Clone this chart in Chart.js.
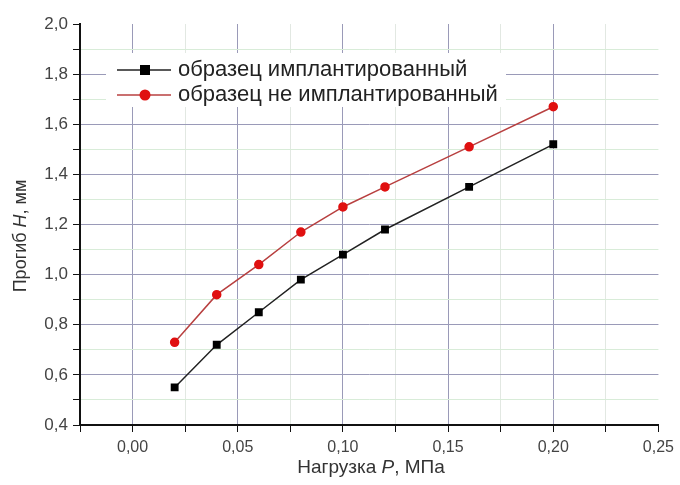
<!DOCTYPE html>
<html>
<head>
<meta charset="utf-8">
<script src="https://cdn.jsdelivr.net/npm/chart.js@4.4.0/dist/chart.umd.min.js"></script>
<style>
  html, body { margin: 0; padding: 0; background: #fff; }
  #wrap { width: 680px; height: 485px; }
</style>
</head>
<body>
<div id="wrap"><canvas id="myChart" width="680" height="485"></canvas></div>
<script>
// данные
const pressure = [0.02, 0.04, 0.06, 0.08, 0.10, 0.12, 0.16, 0.20];
const implanted = [0.55, 0.72, 0.85, 0.98, 1.08, 1.18, 1.35, 1.52];
const notImplanted = [0.73, 0.92, 1.04, 1.17, 1.27, 1.35, 1.51, 1.67];
const seriesNames = ['образец имплантированный', 'образец не имплантированный'];

const FONT = '"Liberation Sans", Arial, sans-serif';

function isMajor(v, step) {
    return Math.abs(Math.round(v / step) * step - v) < 1e-6;
}

// легенда внутри графика (белая подложка закрывает сетку)
const innerLegend = {
    id: 'innerLegend',
    afterDraw(chart) {
        const ctx = chart.ctx;
        const rows = [[117, 70], [117, 95]];
        ctx.save();
        ctx.fillStyle = '#fff';
        ctx.fillRect(106, 53, 400, 54);
        ctx.restore();
        chart.data.datasets.forEach((ds, i) => {
            const [x, y] = rows[i];
            ctx.save();
            ctx.strokeStyle = ds.borderColor;
            ctx.lineWidth = 1.5;
            ctx.beginPath();
            ctx.moveTo(x, y);
            ctx.lineTo(x + 54, y);
            ctx.stroke();
            ctx.fillStyle = ds.pointBackgroundColor;
            if (ds.pointStyle === 'rect') {
                ctx.fillRect(x + 23, y - 5, 10, 10);
            } else {
                ctx.beginPath();
                ctx.arc(x + 28, y, 5.5, 0, Math.PI * 2);
                ctx.fill();
            }
            ctx.fillStyle = '#222';
            ctx.font = '22px ' + FONT;
            ctx.textBaseline = 'middle';
            ctx.fillText(ds.label, x + 61, y);
            ctx.restore();
        });
    }
};

// подписи осей (курсивные буквы)
function drawMixed(ctx, parts, x, y, size) {
    let total = 0;
    parts.forEach(p => {
        ctx.font = (p[1] ? 'italic ' : '') + size + 'px ' + FONT;
        total += ctx.measureText(p[0]).width;
    });
    let cx = x - total / 2;
    parts.forEach(p => {
        ctx.font = (p[1] ? 'italic ' : '') + size + 'px ' + FONT;
        ctx.fillText(p[0], cx, y);
        cx += ctx.measureText(p[0]).width;
    });
}
const axisTitles = {
    id: 'axisTitles',
    afterDraw(chart) {
        const ctx = chart.ctx;
        ctx.save();
        ctx.fillStyle = '#333';
        ctx.textBaseline = 'middle';
        drawMixed(ctx, [['Нагрузка ', false], ['P', true], [', МПа', false]], 371, 468, 19);
        ctx.translate(21, 236);
        ctx.rotate(-Math.PI / 2);
        drawMixed(ctx, [['Прогиб ', false], ['H', true], [', мм', false]], 0, 0, 18);
        ctx.restore();
    }
};

const data = {
    datasets: [{
        label: seriesNames[0],
        data: pressure.map((p, i) => ({ x: p, y: implanted[i] })),
        borderColor: '#222222',
        backgroundColor: '#000000',
        pointBackgroundColor: '#000000',
        pointBorderColor: '#000000',
        pointStyle: 'rect',
        pointRadius: 4.5,
        borderWidth: 1.5
    }, {
        label: seriesNames[1],
        data: pressure.map((p, i) => ({ x: p, y: notImplanted[i] })),
        borderColor: '#b84040',
        backgroundColor: '#e01010',
        pointBackgroundColor: '#e01010',
        pointBorderColor: '#e01010',
        pointStyle: 'circle',
        pointRadius: 4,
        borderWidth: 1.5
    }]
};

const config = {
    type: 'line',
    data: data,
    options: {
        responsive: false,
        animation: false,
        layout: { padding: { top: 24, right: 20, left: 0, bottom: 0 } },
        plugins: {
            legend: { display: false },
            tooltip: { enabled: false }
        },
        scales: {
            x: {
                type: 'linear',
                min: -0.025,
                max: 0.25,
                afterBuildTicks(scale) {
                    const t = [];
                    for (let i = -1; i <= 10; i++) t.push({ value: i * 0.025 });
                    scale.ticks = t;
                },
                afterFit(scale) { scale.height = 60; },
                border: { color: '#111', width: 2 },
                grid: {
                    color: ctx => {
                        const v = ctx.tick.value;
                        if (v > 0.24) return 'rgba(0,0,0,0)';
                        return isMajor(v, 0.05) ? '#9a9ab8' : '#e2e8e2';
                    },
                    tickColor: '#111',
                    tickLength: 7,
                    lineWidth: 1
                },
                ticks: {
                    autoSkip: false,
                    maxRotation: 0,
                    color: '#444',
                    padding: 6,
                    font: { family: FONT, size: 16 },
                    callback: v => isMajor(v, 0.05) ? v.toFixed(2).replace('.', ',') : ''
                }
            },
            y: {
                min: 0.4,
                max: 2.0,
                afterBuildTicks(scale) {
                    const t = [];
                    for (let i = 4; i <= 20; i++) t.push({ value: i / 10 });
                    scale.ticks = t;
                },
                afterFit(scale) { scale.width = 80; },
                border: { color: '#111', width: 2 },
                grid: {
                    color: ctx => {
                        const v = ctx.tick.value;
                        if (v > 1.95) return 'rgba(0,0,0,0)';
                        return isMajor(v, 0.2) ? '#9a9ab8' : '#d8ecd8';
                    },
                    tickColor: '#111',
                    tickLength: 7,
                    lineWidth: 1
                },
                ticks: {
                    autoSkip: false,
                    color: '#444',
                    padding: 5,
                    font: { family: FONT, size: 17 },
                    callback: v => isMajor(v, 0.2) ? v.toFixed(1).replace('.', ',') : ''
                }
            }
        }
    },
    plugins: [innerLegend, axisTitles]
};

const myChart = new Chart(document.getElementById('myChart'), config);
</script>
</body>
</html>
